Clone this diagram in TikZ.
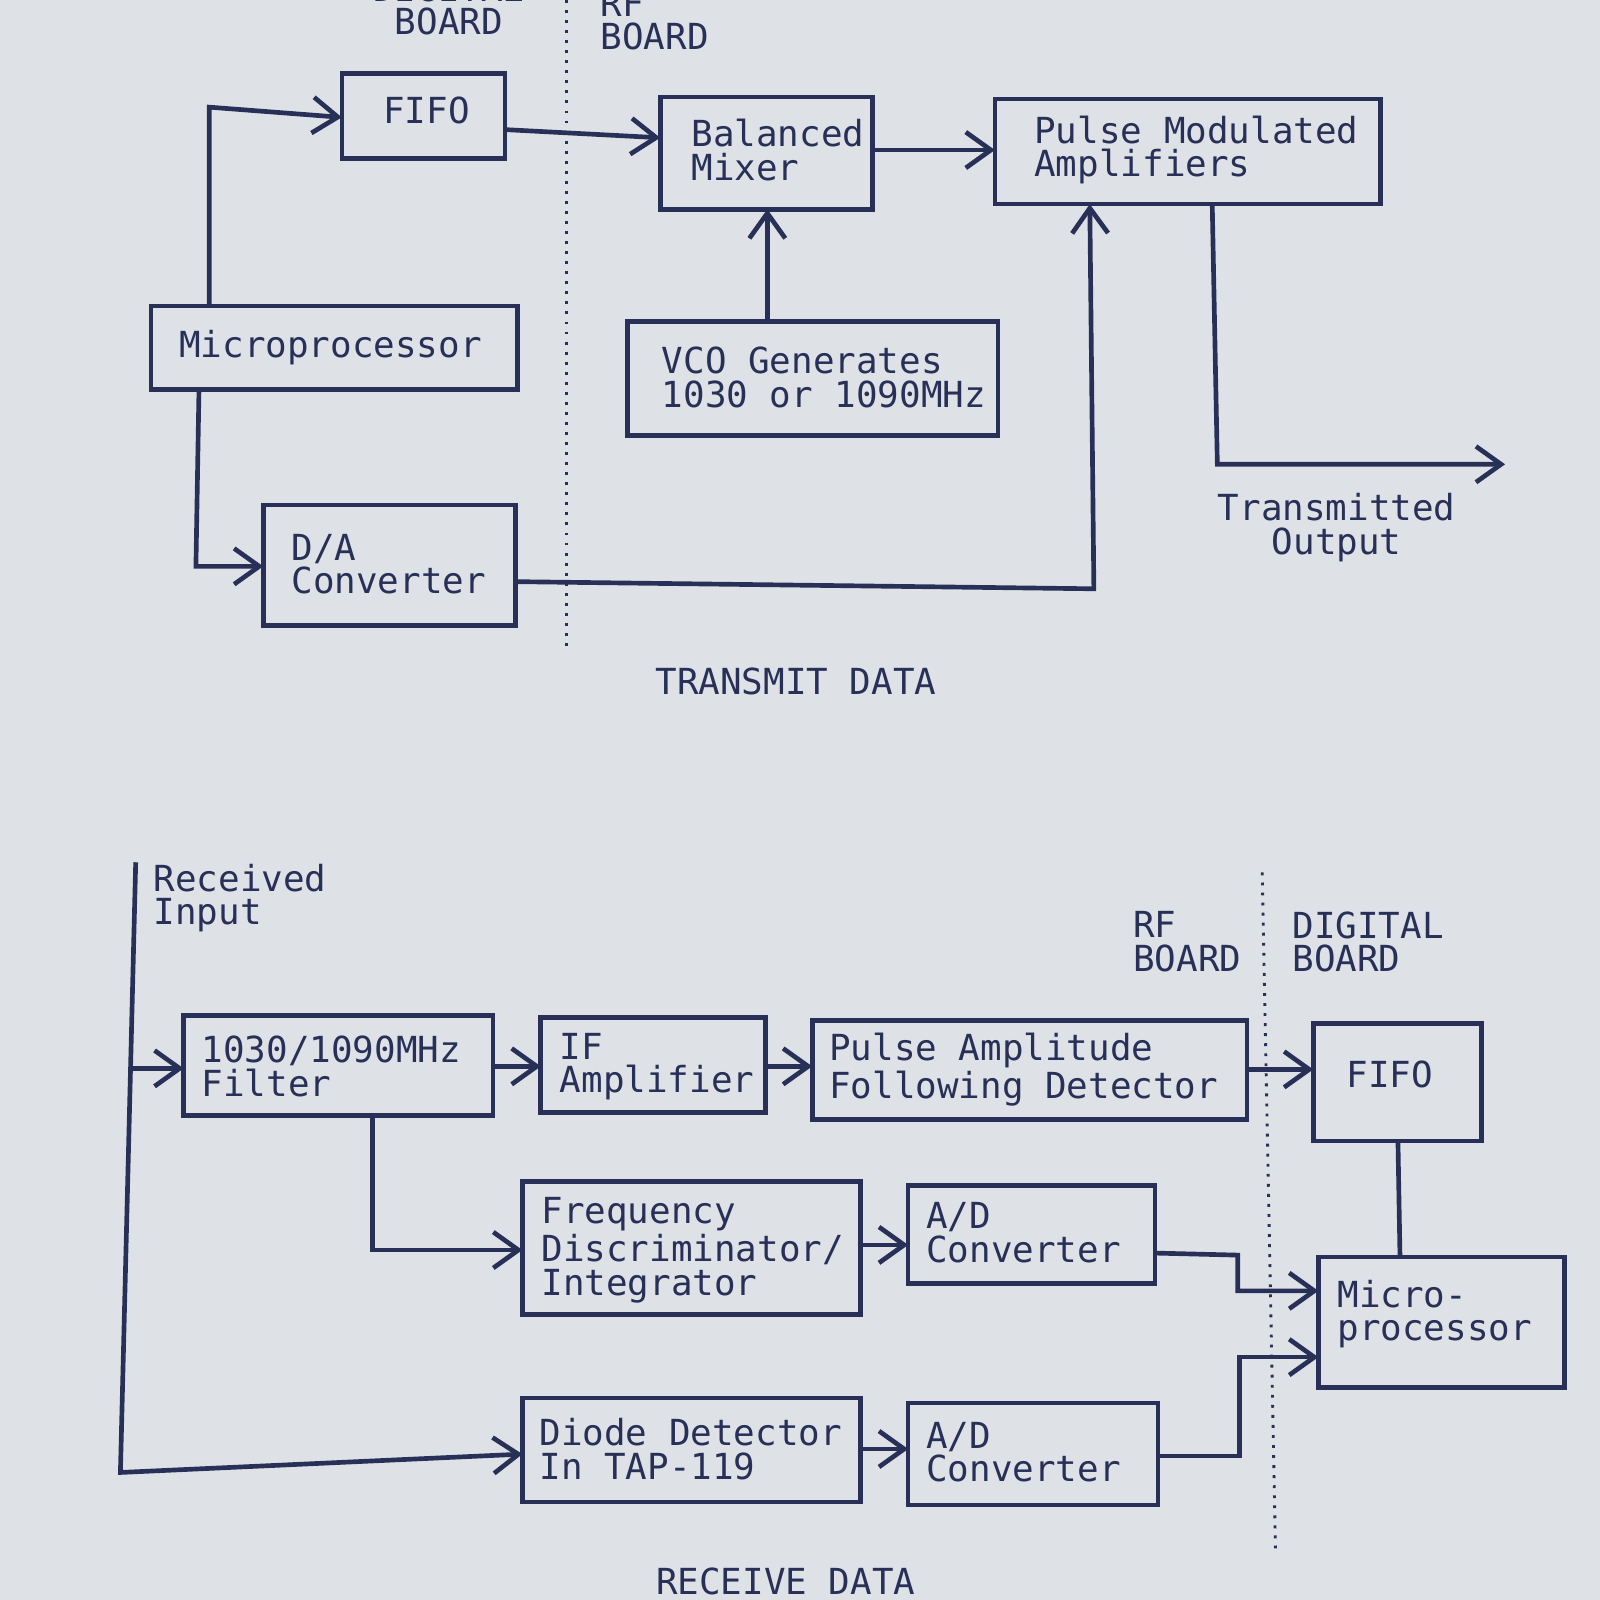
\documentclass[tikz,border=0pt]{standalone}
\usepackage{fontspec}
\setmonofont{DejaVu Sans Mono}
\usetikzlibrary{arrows.meta}
\definecolor{ink}{RGB}{40,48,88}
\definecolor{paper}{RGB}{222,226,230}
\begin{document}
\begin{tikzpicture}[x=0.01cm,y=-0.01cm,
  box/.style={draw=ink,line width=1.3pt},
  txt/.style={text=ink,font=\ttfamily\fontsize{10}{9.3}\selectfont,align=left,inner sep=0pt},
  ln/.style={draw=ink,line width=1.3pt},
  arr/.style={ln,-{Straight Barb[length=7pt,width=10pt]}},
  dot/.style={draw=ink,line width=0.8pt,dotted}]
\useasboundingbox[fill=paper] (0,0) rectangle (1568,1568);
% ---- top
\draw[dot] (555,0) -- (555,640);
\node[txt,align=center,anchor=south] (lDB) at (440,35) {DIGITAL\\BOARD};
\node[txt,align=left,anchor=south west] (lRF) at (588,50) {RF\\BOARD};
\draw[box] (335,72) rectangle (495,155); \node[txt] (fifo1) at (418,108) {FIFO};
\draw[box] (647,95) rectangle (855,205); \node[txt,anchor=west] (mix) at (677,147) {Balanced\\Mixer};
\draw[box] (975,97) rectangle (1353,200); \node[txt,anchor=west] (pma) at (1013,147) {Pulse Modulated\\Amplifiers};
\draw[box] (148,300) rectangle (507,382); \node[txt,anchor=west] (mp1) at (175,341) {Microprocessor};
\draw[box] (615,315) rectangle (978,427); \node[txt,anchor=west] (vco) at (648,370) {VCO Generates\\1030 or 1090MHz};
\draw[box] (258,495) rectangle (505,613); \node[txt,anchor=west] (da) at (285,553) {D/A\\Converter};
\draw[arr] (205,300) -- (205,105) -- (335,115);
\draw[arr] (495,127) -- (647,135);
\draw[arr] (855,147) -- (975,147);
\draw[arr] (752,315) -- (752,205);
\draw[arr] (195,382) -- (192,555) -- (258,555);
\draw[arr] (505,570) -- (1072,577) -- (1068,200);
\draw[arr] (1188,200) -- (1193,455) -- (1475,455);
\node[txt,align=center] (to) at (1310,517) {Transmitted\\Output};
\node[txt] (td) at (780,668) {TRANSMIT DATA};
% ---- bottom
\draw[dot] (1237,855) -- (1250,1520);
\node[txt,anchor=west] (ri) at (150,880) {Received\\Input};
\node[txt,anchor=west] (rfb) at (1110,923) {RF\\BOARD};
\node[txt,anchor=west] (dgb) at (1266,923) {DIGITAL\\BOARD};
\draw[box] (180,995) rectangle (483,1093); \node[txt,anchor=west] (flt) at (197,1045) {1030/1090MHz\\Filter};
\draw[box] (530,997) rectangle (750,1090); \node[txt,anchor=west] (ifa) at (548,1045) {IF\\Amplifier};
\draw[box] (796,1000) rectangle (1222,1097); \node[txt,anchor=west] (pafd) at (812,1048) {Pulse Amplitude\\Following Detector};
\draw[box] (1287,1003) rectangle (1452,1118); \node[txt] (fifo2) at (1362,1053) {FIFO};
\draw[box] (512,1158) rectangle (843,1288); \node[txt,anchor=west] (fdi) at (530,1225) {Frequency\\Discriminator/\\Integrator};
\draw[box] (890,1162) rectangle (1132,1258); \node[txt,anchor=west] (ad1) at (907,1208) {A/D\\Converter};
\draw[box] (1292,1232) rectangle (1533,1360); \node[txt,anchor=west] (mp2) at (1310,1288) {Micro-\\processor};
\draw[box] (512,1370) rectangle (843,1472); \node[txt,anchor=west] (dd) at (528,1420) {Diode Detector\\In TAP-119};
\draw[box] (890,1375) rectangle (1135,1475); \node[txt,anchor=west] (ad2) at (907,1423) {A/D\\Converter};
\draw[arr] (133,845) -- (118,1443) -- (512,1425);
\draw[arr] (130,1047) -- (180,1047);
\draw[arr] (483,1045) -- (530,1045);
\draw[arr] (750,1045) -- (796,1045);
\draw[arr] (1222,1048) -- (1287,1048);
\draw[arr] (365,1093) -- (365,1225) -- (512,1225);
\draw[arr] (843,1220) -- (890,1220);
\draw[arr] (1132,1228) -- (1213,1230) -- (1213,1265) -- (1292,1265);
\draw[arr] (1135,1427) -- (1215,1427) -- (1215,1330) -- (1292,1330);
\draw[ln] (1370,1118) -- (1372,1232);
\draw[arr] (843,1420) -- (890,1420);
\node[txt] (rd) at (770,1550) {RECEIVE DATA};
\end{tikzpicture}
\end{document}
